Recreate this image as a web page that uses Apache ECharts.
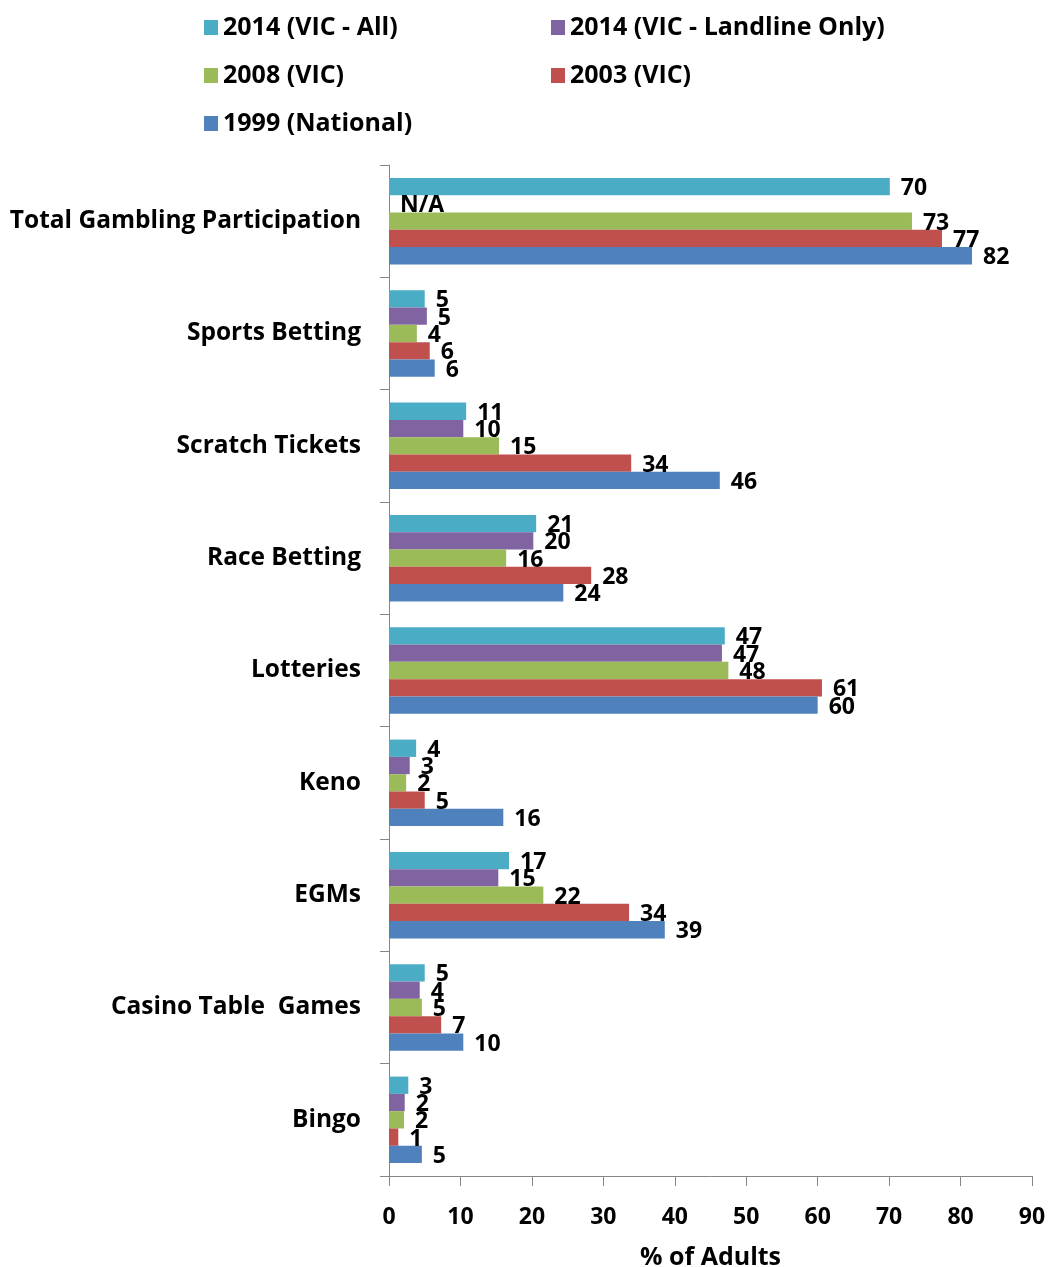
<!DOCTYPE html>
<html>
<head>
<meta charset="utf-8">
<script src="https://cdn.jsdelivr.net/npm/echarts@6/dist/echarts.min.js"></script>
<style>html,body{margin:0;padding:0;background:#fff}#c{width:1051px;height:1267px}</style>
</head>
<body>
<div id="c"></div>
<script>
const categories = ['Total Gambling Participation','Sports Betting','Scratch Tickets','Race Betting','Lotteries','Keno','EGMs','Casino Table  Games','Bingo'];
const seriesNames = ['2014 (VIC - All)','2014 (VIC - Landline Only)','2008 (VIC)','2003 (VIC)','1999 (National)'];
const vic2014All = [70.1, 5.0, 10.8, 20.6, 47.0, 3.8, 16.8, 5.0, 2.7];
const vic2014Landline = [null, 5.3, 10.4, 20.2, 46.6, 2.9, 15.3, 4.3, 2.2];
const vic2008 = [73.2, 3.9, 15.4, 16.4, 47.5, 2.4, 21.6, 4.6, 2.1];
const vic2003 = [77.4, 5.7, 33.9, 28.3, 60.6, 5.0, 33.6, 7.3, 1.3];
const nat1999 = [81.6, 6.4, 46.3, 24.4, 60.0, 16.0, 38.6, 10.4, 4.6];
const xTicks = [0,10,20,30,40,50,60,70,80,90];
const colors = ['#4BACC6','#8064A2','#9BBB59','#C0504D','#4F81BD'];

const FONT = 'Open Sans';
const FS = 23;
const allData = [vic2014All, vic2014Landline, vic2008, vic2003, nat1999];

const series = allData.map((arr, i) => ({
  name: seriesNames[i],
  type: 'bar',
  barGap: '0%',
  barCategoryGap: '23%',
  itemStyle: { color: colors[i] },
  data: arr.map(v => v === null ? { value: 0, isNA: true } : v),
  label: {
    show: true,
    position: 'right',
    distance: 11,
    offset: [0, 2],
    color: '#000',
    fontFamily: FONT,
    fontWeight: 'bold',
    fontSize: FS,
    formatter: p => (p.data && p.data.isNA) ? 'N/A' : String(Math.round(p.value))
  }
}));

const legendText = { fontFamily: FONT, fontWeight: 'bold', fontSize: 25, color: '#000' };
const chart = echarts.init(document.getElementById('c'));
chart.setOption({
  animation: false,
  textStyle: { fontFamily: FONT },
  legend: [
    {
      orient: 'vertical', left: 199, top: 10, icon: 'rect', itemWidth: 14, itemHeight: 15, itemGap: 23, itemTextGap: 8,
      data: [seriesNames[0], seriesNames[2], seriesNames[4]],
      textStyle: legendText
    },
    {
      orient: 'vertical', left: 546, top: 10, icon: 'rect', itemWidth: 14, itemHeight: 15, itemGap: 23, itemTextGap: 8,
      data: [seriesNames[1], seriesNames[3]],
      textStyle: legendText
    }
  ],
  grid: { left: 389, right: 19, top: 165, bottom: 91, containLabel: false, outerBoundsMode: 'none' },
  xAxis: {
    type: 'value', min: 0, max: 90, interval: 10,
    splitLine: { show: false },
    axisLine: { show: true, lineStyle: { color: '#868686' } },
    axisTick: { show: true, length: 10, lineStyle: { color: '#868686' } },
    axisLabel: { margin: 30, fontFamily: FONT, fontWeight: 'bold', fontSize: FS, color: '#000',
      formatter: v => xTicks.indexOf(v) >= 0 ? String(v) : '' },
    name: '% of Adults', nameLocation: 'middle', nameGap: 69,
    nameTextStyle: { fontFamily: FONT, fontWeight: 'bold', fontSize: 25, color: '#000' }
  },
  yAxis: {
    type: 'category', data: categories, inverse: true,
    axisLine: { show: true, lineStyle: { color: '#868686' } },
    axisTick: { show: true, length: 9, lineStyle: { color: '#868686' } },
    axisLabel: { margin: 28, fontFamily: FONT, fontWeight: 'bold', fontSize: 24.5, color: '#000' }
  },
  series: series
});
</script>
</body>
</html>
